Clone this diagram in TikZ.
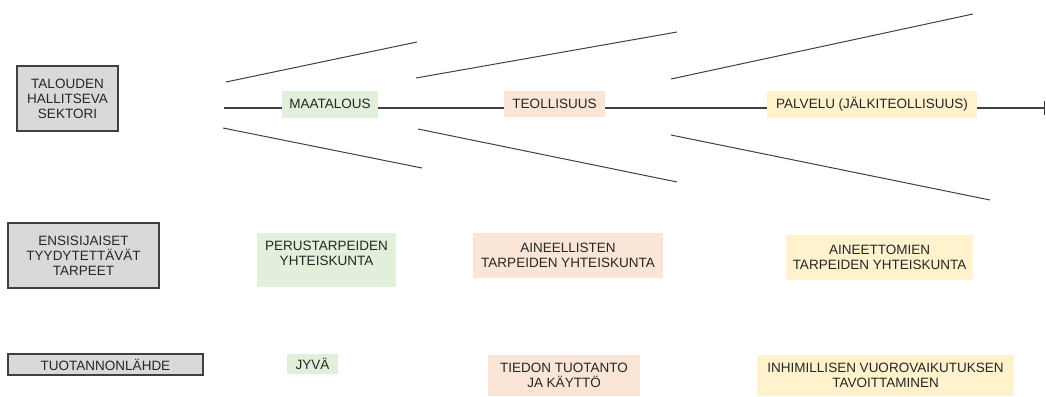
\documentclass[tikz,border=0pt]{standalone}
\usepackage{fontspec}
\setmainfont{Liberation Sans}
\usetikzlibrary{arrows.meta}
\definecolor{ink}{HTML}{262626}
\definecolor{rule}{HTML}{404040}
\definecolor{greyfill}{HTML}{D9D9D9}
\definecolor{greenfill}{HTML}{E2EFDA}
\definecolor{peachfill}{HTML}{FBE5D6}
\definecolor{yellowfill}{HTML}{FFF2CC}
\tikzset{
  txt/.style={font=\fontsize{13.5}{15}\selectfont, text=ink, align=center, inner sep=0pt},
  headbox/.style={txt, draw=rule, line width=1.1pt, fill=greyfill},
  era/.style={txt, draw=none},
  agri/.style={era, fill=greenfill},
  indu/.style={era, fill=peachfill},
  serv/.style={era, fill=yellowfill},
  axis/.style={draw=rule, line width=1.1pt},
  fan/.style={draw=rule, line width=1pt},
}
% lift a two-line label inside its box without changing the box size
\newcommand{\liftlabel}[2]{\raisebox{#1}[\height][\depth]{\begin{tabular}{@{}c@{}}#2\end{tabular}}}
\begin{document}
\begin{tikzpicture}[x=1pt, y=-1pt]
\useasboundingbox (0,0) rectangle (1046,396);

% row headings
\node[headbox, minimum width=101pt, minimum height=65pt] (h1) at (67.5,98.5) {TALOUDEN\\HALLITSEVA\\SEKTORI};
\node[headbox, minimum width=151pt, minimum height=65pt] (h2) at (83.5,255.5) {ENSISIJAISET\\TYYDYTETTÄVÄT\\TARPEET};
\node[headbox, minimum width=195pt, minimum height=21pt] (h3) at (105.5,364.5) {TUOTANNONLÄHDE};

% dominant sectors along the time axis
\node[agri, minimum width=96pt, minimum height=27pt] (maa) at (330,104) {MAATALOUS};
\node[indu, minimum width=101pt, minimum height=26pt] (teo) at (554.5,104) {TEOLLISUUS};
\node[serv, minimum width=210pt, minimum height=27pt] (pal) at (872,104.5) {PALVELU (JÄLKITEOLLISUUS)};

% primary needs
\node[agri, minimum width=139pt, minimum height=54pt] (per) at (326.5,260)
  {\liftlabel{5pt}{PERUSTARPEIDEN\\YHTEISKUNTA}};
\node[indu, minimum width=190pt, minimum height=45pt] (ain) at (568,255.5) {AINEELLISTEN\\TARPEIDEN YHTEISKUNTA};
\node[serv, minimum width=187pt, minimum height=45pt] (aie) at (879.5,257.5) {AINEETTOMIEN\\TARPEIDEN YHTEISKUNTA};

% source of production
\node[agri, minimum width=51pt, minimum height=20pt] (jyv) at (312.5,364) {JYVÄ};
\node[indu, minimum width=152pt, minimum height=41pt] (tie) at (564,375.5) {TIEDON TUOTANTO\\JA KÄYTTÖ};
\node[serv, minimum width=257pt, minimum height=41pt] (inh) at (885.5,375.5) {INHIMILLISEN VUOROVAIKUTUKSEN\\TAVOITTAMINEN};

% time axis
\coordinate (start) at (224,108);
\coordinate (stop) at (1045,108);
\draw[axis] (start) -- (start -| maa.west);
\draw[axis] (maa.east |- start) -- (start -| teo.west);
\draw[axis] (teo.east |- start) -- (start -| pal.west);
\draw[axis, -{Bar[width=14pt, line width=1.1pt]}] (pal.east |- start) -- (stop);

% widening fans of each era
\draw[fan] (226,82) -- (417,42);
\draw[fan] (223,128) -- (422,168);
\draw[fan] (416,78) -- (677,32);
\draw[fan] (418,129) -- (677,182);
\draw[fan] (671,79) -- (973,14);
\draw[fan] (671,135) -- (990,200);
\end{tikzpicture}
\end{document}
